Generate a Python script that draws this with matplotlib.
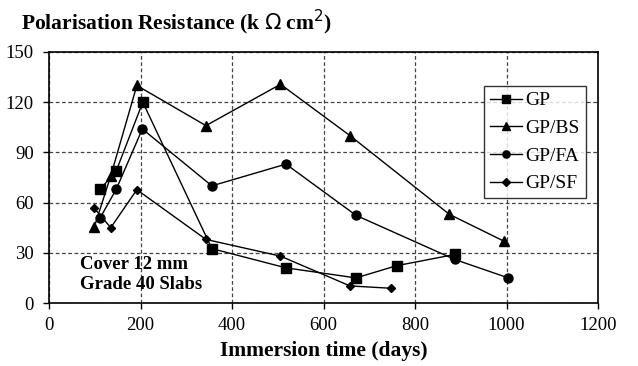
import matplotlib
matplotlib.use("Agg")
import matplotlib.pyplot as plt

plt.rcParams['font.family'] = ['Liberation Serif', 'DejaVu Serif']

# polarisation resistance vs immersion time
gp_days = [112, 147, 205, 356, 518, 671, 760, 887]
gp_rp = [68, 79, 120, 32.5, 21, 15, 22.3, 29]

bs_days = [99, 135, 192, 343, 506, 658, 875, 994]
bs_rp = [45.4, 76, 130, 106, 130.7, 100, 53, 37]

fa_days = [112, 147, 204, 356, 518, 671, 887, 1004]
fa_rp = [51, 68, 104, 70, 83, 52.4, 26, 15]

sf_days = [99, 135, 192, 343, 506, 658, 748]
sf_rp = [56.6, 45, 67.7, 38, 28, 10.2, 8.8]

fig = plt.figure(figsize=(6.38, 3.66), dpi=100)
ax = fig.add_axes([49 / 638, 1 - 303 / 366, 549 / 638, 251 / 366])

ax.plot(gp_days, gp_rp, color='black', lw=1, marker='s', ms=6.5, label='GP')
ax.plot(bs_days, bs_rp, color='black', lw=1, marker='^', ms=6.5, label='GP/BS')
ax.plot(fa_days, fa_rp, color='black', lw=1, marker='o', ms=6.5, label='GP/FA')
ax.plot(sf_days, sf_rp, color='black', lw=1, marker='D', ms=4.5, label='GP/SF')

ax.set_xlim(0, 1200)
ax.set_ylim(0, 150)
ax.set_xticks(range(0, 1201, 200))
ax.set_yticks(range(0, 151, 30))
ax.grid(True, color='#444444', ls=(0, (3, 2)), lw=0.9)
ax.tick_params(labelsize=13.5, length=4, width=1, color='black')
ax.tick_params(axis='x', pad=6)
ax.tick_params(axis='y', pad=7)
for s in ax.spines.values():
    s.set_linewidth(1.2)

ax.set_xlabel("Immersion time (days)", fontsize=15.5, fontweight='bold', labelpad=5)
fig.text(21 / 638, 0.94, r"Polarisation Resistance (k $\Omega$ cm$^{2}$)", fontsize=15.5,
         fontweight='bold', va='center')
ax.text(68, 28, "Cover 12 mm\nGrade 40 Slabs", fontsize=13.5, fontweight='bold',
        va='top', ha='left', linespacing=1.2)

leg = ax.legend(loc='upper right', bbox_to_anchor=(0.978, 0.865), fontsize=14,
                frameon=True, fancybox=False, edgecolor='black', handlelength=1.65,
                handletextpad=0.2, labelspacing=0.52, borderpad=0.3, markerscale=0.8,
                borderaxespad=0)
leg.get_frame().set_linewidth(1)

plt.savefig("out.png", dpi=100)
